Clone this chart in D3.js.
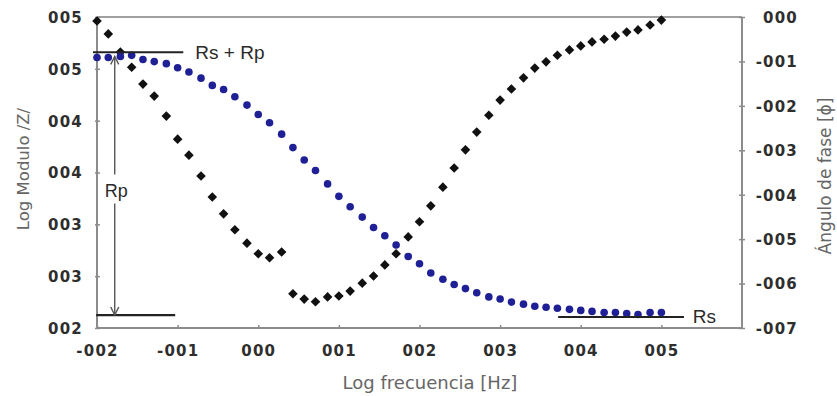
<!DOCTYPE html>
<html>
<head>
<meta charset="utf-8">
<script src="https://cdn.jsdelivr.net/npm/d3@7"></script>
<style>
  html, body { margin: 0; padding: 0; background: #fff; }
  svg { display: block; }
  .tick-label { font-family: "DejaVu Sans", Verdana, sans-serif; font-weight: bold; font-size: 15px; fill: #2e2e2e; letter-spacing: 1.2px; }
  .axis-title { font-family: "DejaVu Sans", Verdana, sans-serif; font-size: 18px; fill: #666; }
  .note { font-family: "Liberation Sans", Arial, sans-serif; font-size: 19px; fill: #2a2a2a; }
</style>
</head>
<body>
<svg id="chart" width="837" height="396"></svg>
<script>
// Log frequency (decades), seven points per decade
const logFreq = [-2.00, -1.86, -1.71, -1.57, -1.43, -1.29, -1.14, -1.00, -0.86, -0.71,
                 -0.57, -0.43, -0.29, -0.14, 0.00, 0.14, 0.29, 0.43, 0.57, 0.71,
                 0.86, 1.00, 1.14, 1.29, 1.43, 1.57, 1.71, 1.86, 2.00, 2.14,
                 2.29, 2.43, 2.57, 2.71, 2.86, 3.00, 3.14, 3.29, 3.43, 3.57,
                 3.71, 3.86, 4.00, 4.14, 4.29, 4.43, 4.57, 4.71, 4.86, 5.00];

// Log |Z| (left axis)
const logModulus = [4.61, 4.61, 4.62, 4.63, 4.59, 4.57, 4.55, 4.51, 4.47, 4.41,
                    4.34, 4.30, 4.23, 4.15, 4.06, 3.98, 3.87, 3.74, 3.62, 3.52,
                    3.39, 3.27, 3.17, 3.07, 2.97, 2.89, 2.80, 2.69, 2.62, 2.53,
                    2.47, 2.42, 2.38, 2.34, 2.30, 2.28, 2.25, 2.23, 2.21, 2.20,
                    2.19, 2.18, 2.17, 2.16, 2.15, 2.15, 2.14, 2.13, 2.15, 2.15];

// Phase angle (right axis)
const phaseAngle = [-0.09, -0.38, -0.79, -1.13, -1.51, -1.78, -2.23, -2.75, -3.11, -3.58,
                    -4.05, -4.43, -4.79, -5.09, -5.33, -5.42, -5.29, -6.23, -6.35, -6.41,
                    -6.30, -6.28, -6.17, -5.99, -5.83, -5.58, -5.33, -4.95, -4.61, -4.25,
                    -3.83, -3.40, -2.99, -2.59, -2.21, -1.87, -1.62, -1.37, -1.15, -1.01,
                    -0.86, -0.74, -0.65, -0.56, -0.50, -0.43, -0.34, -0.29, -0.18, -0.07];

// Axis ticks and their printed labels
const xTicks = [-2, -1, 0, 1, 2, 3, 4, 5];
const xTickLabels = ["-002", "-001", "000", "001", "002", "003", "004", "005"];
const leftTicks = [5, 4.5, 4, 3.5, 3, 2.5, 2];
const leftTickLabels = ["005", "005", "004", "004", "003", "003", "002"];
const rightTicks = [0, -1, -2, -3, -4, -5, -6, -7];
const rightTickLabels = ["000", "-001", "-002", "-003", "-004", "-005", "-006", "-007"];

// Equivalent-circuit annotations (x in decades, y in log |Z|)
const rsRpLevel = 4.66;
const rsLevel = 2.125;
const rsLineRight = 2.106;

const svg = d3.select("#chart");
const m = { left: 97, right: 742, top: 17, bottom: 328 };

const x = d3.scaleLinear().domain([-2, 6]).range([m.left, m.right]);
const yL = d3.scaleLinear().domain([2, 5]).range([m.bottom, m.top]);
const yR = d3.scaleLinear().domain([-7, 0]).range([m.bottom, m.top]);

// Frame: top border and the three axes
const frame = svg.append("g").attr("stroke", "#8c8c8c").attr("stroke-width", 2).attr("fill", "none");
frame.append("line").attr("x1", m.left).attr("x2", m.right).attr("y1", m.top).attr("y2", m.top).attr("stroke", "#a0a0a0");
frame.append("line").attr("x1", m.left).attr("x2", m.left).attr("y1", m.top).attr("y2", m.bottom);
frame.append("line").attr("x1", m.right).attr("x2", m.right).attr("y1", m.top).attr("y2", m.bottom);
frame.append("line").attr("x1", m.left).attr("x2", m.right).attr("y1", m.bottom).attr("y2", m.bottom);

// Bottom axis
const xAxis = d3.axisBottom(x).tickValues(xTicks).tickSize(0).tickPadding(0)
  .tickFormat((d, i) => xTickLabels[i]);
const gx = svg.append("g").attr("transform", `translate(0,${m.bottom})`).call(xAxis);
gx.select(".domain").remove();
gx.selectAll(".tick line").remove();
gx.selectAll(".tick").append("line").attr("y1", -3).attr("y2", 1).attr("stroke", "#8c8c8c").attr("stroke-width", 1.5);
gx.selectAll(".tick text").attr("class", "tick-label").attr("y", 28).attr("dy", 0);

// Left axis
const yAxisL = d3.axisLeft(yL).tickValues(leftTicks).tickSize(0).tickPadding(14)
  .tickFormat((d, i) => leftTickLabels[i]);
const gl = svg.append("g").attr("transform", `translate(${m.left},0)`).call(yAxisL);
gl.select(".domain").remove();
gl.selectAll(".tick").append("line").attr("x1", -2).attr("x2", 3).attr("stroke", "#8c8c8c").attr("stroke-width", 1.5);
gl.selectAll(".tick text").attr("class", "tick-label").attr("dy", "0.36em");

// Right axis
const yAxisR = d3.axisRight(yR).tickValues(rightTicks).tickSize(0).tickPadding(0)
  .tickFormat((d, i) => rightTickLabels[i]);
const gr = svg.append("g").attr("transform", `translate(${m.right},0)`).call(yAxisR);
gr.select(".domain").remove();
gr.selectAll(".tick").append("line").attr("x1", -3).attr("x2", 3).attr("stroke", "#8c8c8c").attr("stroke-width", 1.5);
gr.selectAll(".tick text").attr("class", "tick-label").attr("text-anchor", "end").attr("x", 56).attr("dy", "0.36em");

// Axis titles
svg.append("text").attr("class", "axis-title").attr("x", 430).attr("y", 389)
  .attr("text-anchor", "middle").text("Log frecuencia [Hz]");
svg.append("text").attr("class", "axis-title")
  .attr("transform", "translate(29,169) rotate(-90)").attr("text-anchor", "middle")
  .style("font-size", "16.5px").text("Log Modulo /Z/");
svg.append("text").attr("class", "axis-title")
  .attr("transform", "translate(831,176) rotate(-90)").attr("text-anchor", "middle")
  .style("font-size", "17px").text("Ángulo de fase [ϕ]");

// Arrowheads for the Rp span
const defs = svg.append("defs");
defs.append("marker").attr("id", "arrowHead").attr("viewBox", "0 0 10 10")
  .attr("refX", 9).attr("refY", 5).attr("markerWidth", 10).attr("markerHeight", 10)
  .attr("markerUnits", "userSpaceOnUse").attr("orient", "auto-start-reverse")
  .append("path").attr("d", "M1,1 L9,5 L1,9").attr("fill", "none").attr("stroke", "#555").attr("stroke-width", 1.4);

// Phase angle series: black diamonds
const pts = logFreq.map((f, i) => ({ f, z: logModulus[i], p: phaseAngle[i] }));
svg.append("g").selectAll("rect").data(pts).join("rect")
  .attr("x", -3.4).attr("y", -3.4).attr("width", 6.8).attr("height", 6.8)
  .attr("fill", "#111")
  .attr("transform", d => `translate(${x(d.f)},${yR(d.p)}) rotate(45)`);

// Modulus series: navy dots
svg.append("g").selectAll("circle").data(pts).join("circle")
  .attr("cx", d => x(d.f)).attr("cy", d => yL(d.z)).attr("r", 3.8)
  .attr("fill", "#1f1f96");

// Annotations
const ann = svg.append("g");
ann.append("line").attr("x1", x(-2.05)).attr("x2", x(-0.93))
  .attr("y1", yL(rsRpLevel)).attr("y2", yL(rsRpLevel)).attr("stroke", "#222").attr("stroke-width", 2.2);
ann.append("text").attr("class", "note").attr("x", x(-0.78)).attr("y", yL(rsRpLevel) + 7).text("Rs + Rp");

ann.append("line").attr("x1", x(-2.01)).attr("x2", x(-1.03))
  .attr("y1", yL(rsLevel)).attr("y2", yL(rsLevel)).attr("stroke", "#222").attr("stroke-width", 2.2);

// Rp span: double-headed arrow interrupted by its label
ann.append("line").attr("x1", x(-1.78)).attr("x2", x(-1.78))
  .attr("y1", yL(3.48)).attr("y2", yL(4.62))
  .attr("stroke", "#555").attr("stroke-width", 1.4).attr("marker-end", "url(#arrowHead)");
ann.append("line").attr("x1", x(-1.78)).attr("x2", x(-1.78))
  .attr("y1", yL(3.20)).attr("y2", yL(rsLevel))
  .attr("stroke", "#555").attr("stroke-width", 1.4).attr("marker-end", "url(#arrowHead)");
ann.append("text").attr("class", "note").attr("x", x(-1.76)).attr("y", yL(3.33) + 7)
  .attr("text-anchor", "middle").style("font-size", "18px").text("Rp");

ann.append("line").attr("x1", x(3.72)).attr("x2", x(5.28))
  .attr("y1", yL(rsLineRight)).attr("y2", yL(rsLineRight)).attr("stroke", "#222").attr("stroke-width", 2.2);
ann.append("text").attr("class", "note").attr("x", x(5.39)).attr("y", yL(rsLineRight) + 6).text("Rs");
</script>
</body>
</html>
